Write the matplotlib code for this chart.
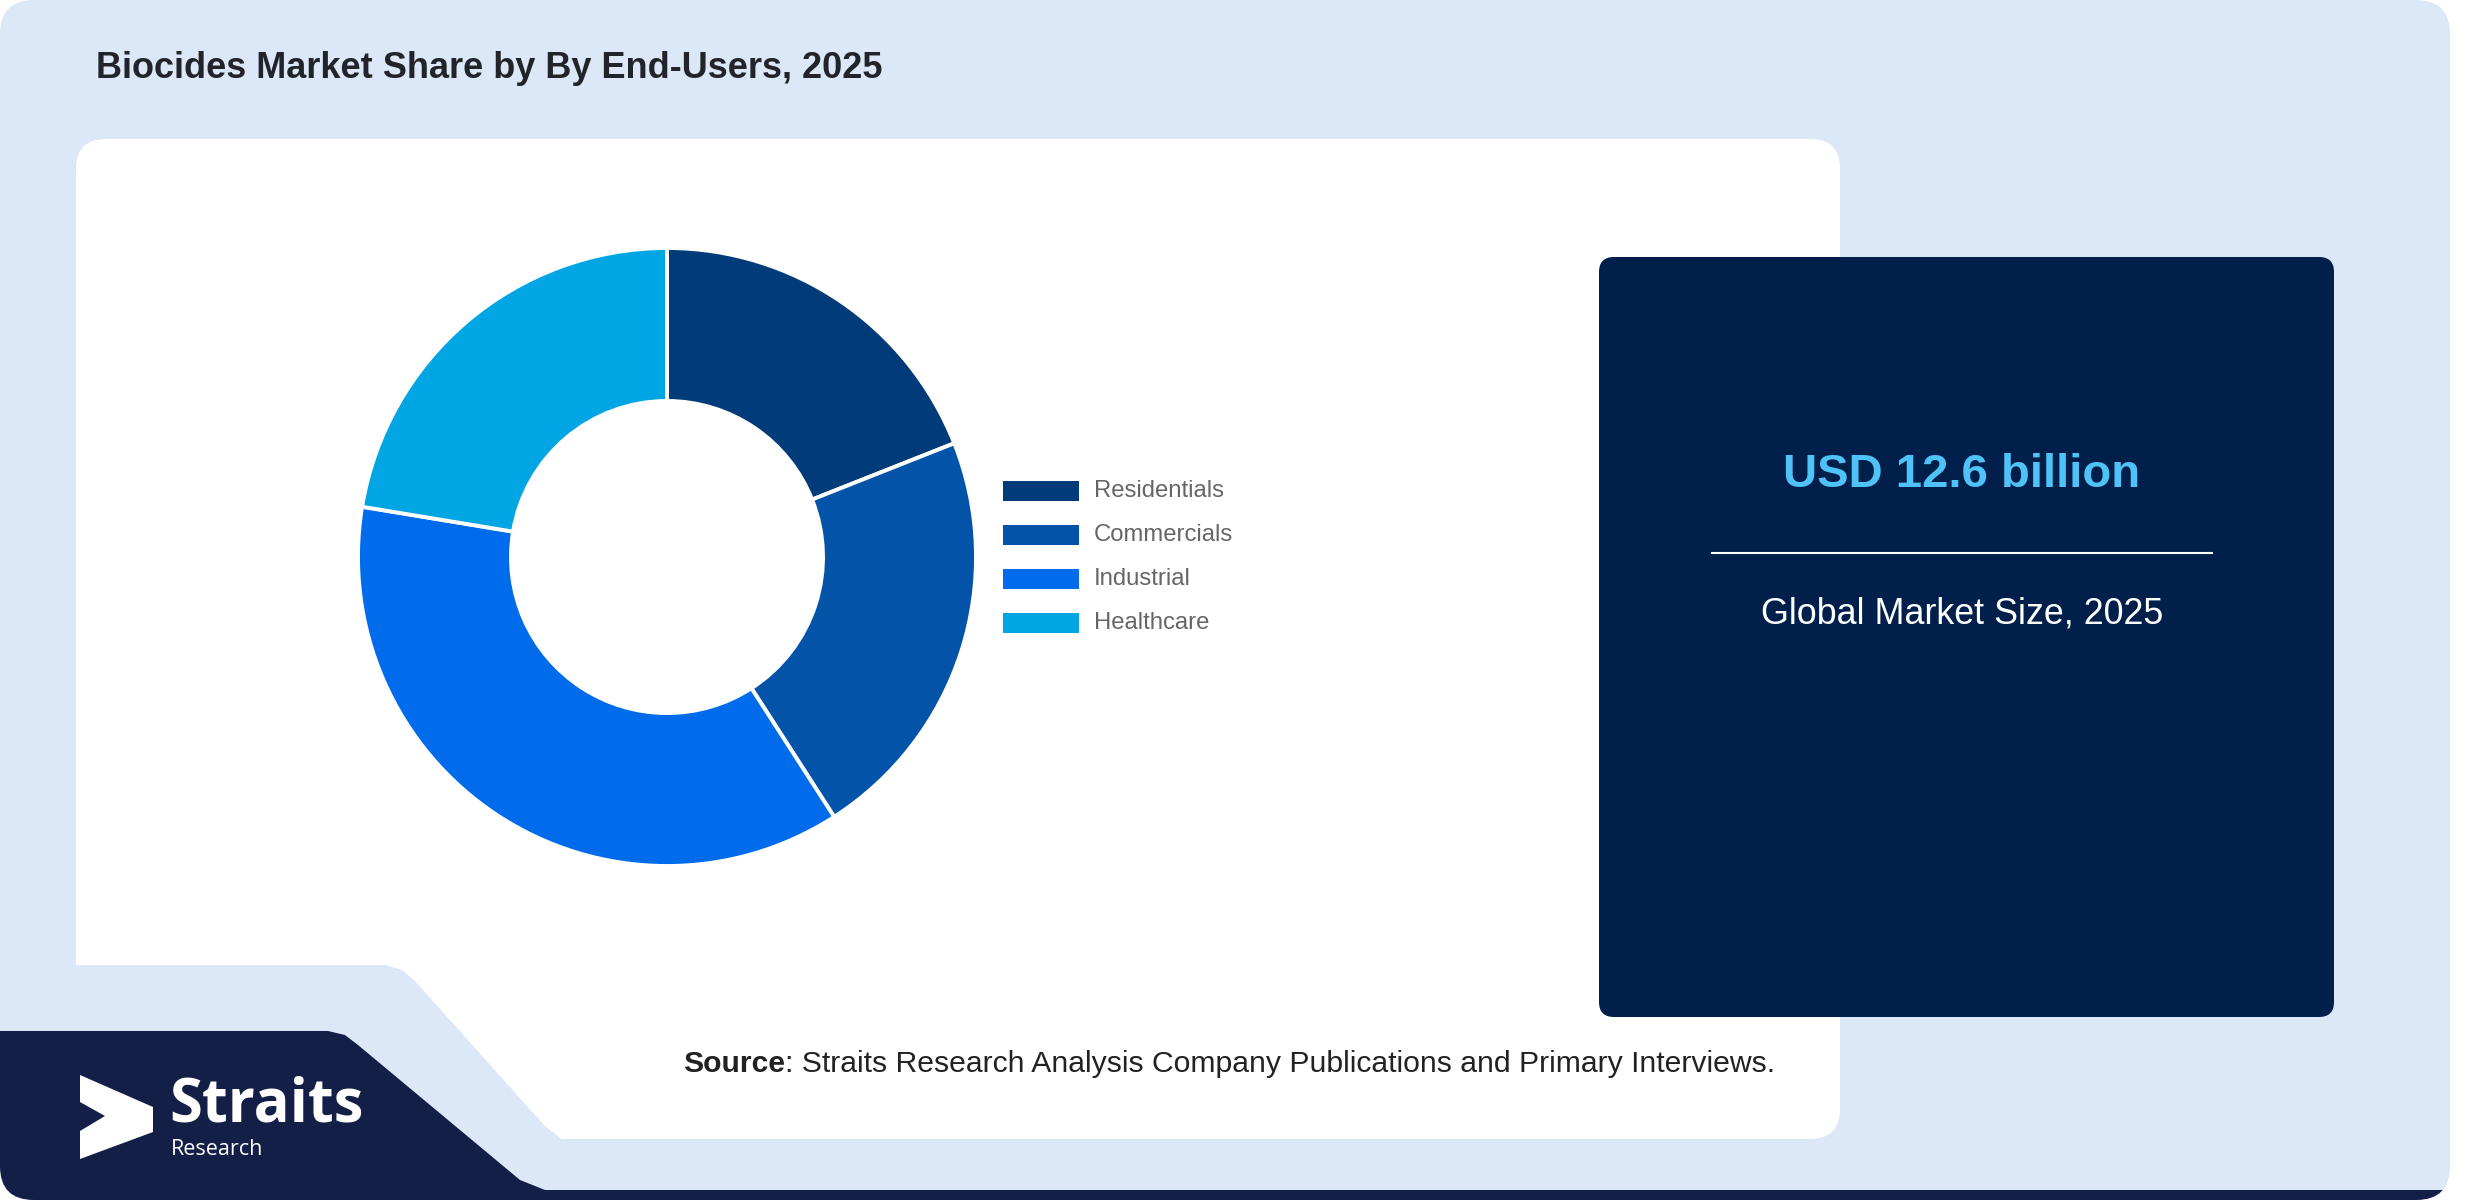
import matplotlib
matplotlib.use("Agg")
import matplotlib.pyplot as plt
from matplotlib.patches import FancyBboxPatch, Polygon, Rectangle

plt.rcParams['font.family'] = ['Liberation Sans', 'DejaVu Sans']

# Datos del gráfico
categories = ['Residentials', 'Commercials', 'Industrial', 'Healthcare']
shares = [19.0, 21.9, 36.7, 22.4]
colors = ['#023b7a', '#0354a8', '#006cec', '#00a6e3']
title = 'Biocides Market Share by By End-Users, 2025'
market_value = 'USD 12.6 billion'
market_label = 'Global Market Size, 2025'

W, H = 2480, 1200
fig = plt.figure(figsize=(W / 100, H / 100), dpi=100)
fig.patch.set_facecolor('white')

# Eje de fondo en coordenadas de píxel
bg = fig.add_axes([0, 0, 1, 1])
bg.set_xlim(0, W)
bg.set_ylim(H, 0)
bg.axis('off')

# Tarjeta azul claro
card = FancyBboxPatch((0, 0), 2450, 1200, boxstyle='round,pad=0,rounding_size=34',
                      fc='#dce8f8', ec='none')
bg.add_patch(card)

# Panel blanco con la muesca inferior izquierda
panel = FancyBboxPatch((76, 139), 1764, 1000, boxstyle='round,pad=0,rounding_size=30',
                       fc='white', ec='none')
bg.add_patch(panel)
notch = Polygon([(60, 965), (385, 965), (402, 970), (414, 980), (545, 1126), (575, 1150), (60, 1150)],
                closed=True, fc='#dce8f8', ec='none')
bg.add_patch(notch)

# Franja oscura del logo
dark = Polygon([(0, 1031), (328, 1031), (345, 1035), (358, 1045), (520, 1180), (545, 1190),
                (2450, 1190), (2450, 1200), (0, 1200)], closed=True, fc='#131f47', ec='none')
bg.add_patch(dark)
dark.set_clip_path(card)

# Logo
chevron = Polygon([(80, 1075), (153, 1107), (153, 1132), (80, 1159), (80, 1131),
                   (105, 1116), (80, 1102)], closed=True, fc='white', ec='none')
bg.add_patch(chevron)
bg.text(169, 1122, 'Straits', color='white', fontsize=43, fontweight='bold',
        family=['Open Sans', 'DejaVu Sans'], va='baseline', ha='left')
bg.text(171, 1155, 'Research', color='white', fontsize=15.5,
        family=['Open Sans', 'DejaVu Sans'], va='baseline', ha='left')

# Título
bg.text(96, 78, title, fontsize=26, fontweight='bold', color='#212529',
        va='baseline', ha='left')

# Panel derecho
right = FancyBboxPatch((1599, 257), 735, 760, boxstyle='round,pad=0,rounding_size=15',
                       fc='#011f4b', ec='none')
bg.add_patch(right)
bg.text(1962, 487, market_value, fontsize=34, fontweight='bold', color='#4fc3f7',
        ha='center', va='baseline')
bg.plot([1712, 2212], [553, 553], color='white', lw=1.5)
bg.text(1962, 623, market_label, fontsize=25.8, color='white', ha='center', va='baseline')

# Fuente
src = bg.text(683, 1072, 'Source', fontsize=21.7, fontweight='bold', color='#222222',
              va='baseline', ha='left')
bg.annotate(': Straits Research Analysis Company Publications and Primary Interviews.',
            xy=(1, 0), xycoords=src, va='bottom', ha='left', fontsize=21.7, color='#222222')

# Donut
cx, cy, r = 667, 557, 309
ax = fig.add_axes([(cx - r) / W, (H - cy - r) / H, 2 * r / W, 2 * r / H])
ax.pie(shares, colors=colors, startangle=90, counterclock=False, radius=1,
       wedgeprops=dict(width=0.495, edgecolor='white', linewidth=2.8))
ax.set_xlim(-1, 1)
ax.set_ylim(-1, 1)
ax.axis('off')

# Leyenda
for i, (lab, col) in enumerate(zip(categories, colors)):
    bg.add_patch(Rectangle((1003, 481 + 44 * i), 76, 20, fc=col, ec='none'))
    bg.text(1094, 497 + 44 * i, lab, fontsize=17.2, color='#666666',
            va='baseline', ha='left')

fig.savefig('out.png', dpi=100)
